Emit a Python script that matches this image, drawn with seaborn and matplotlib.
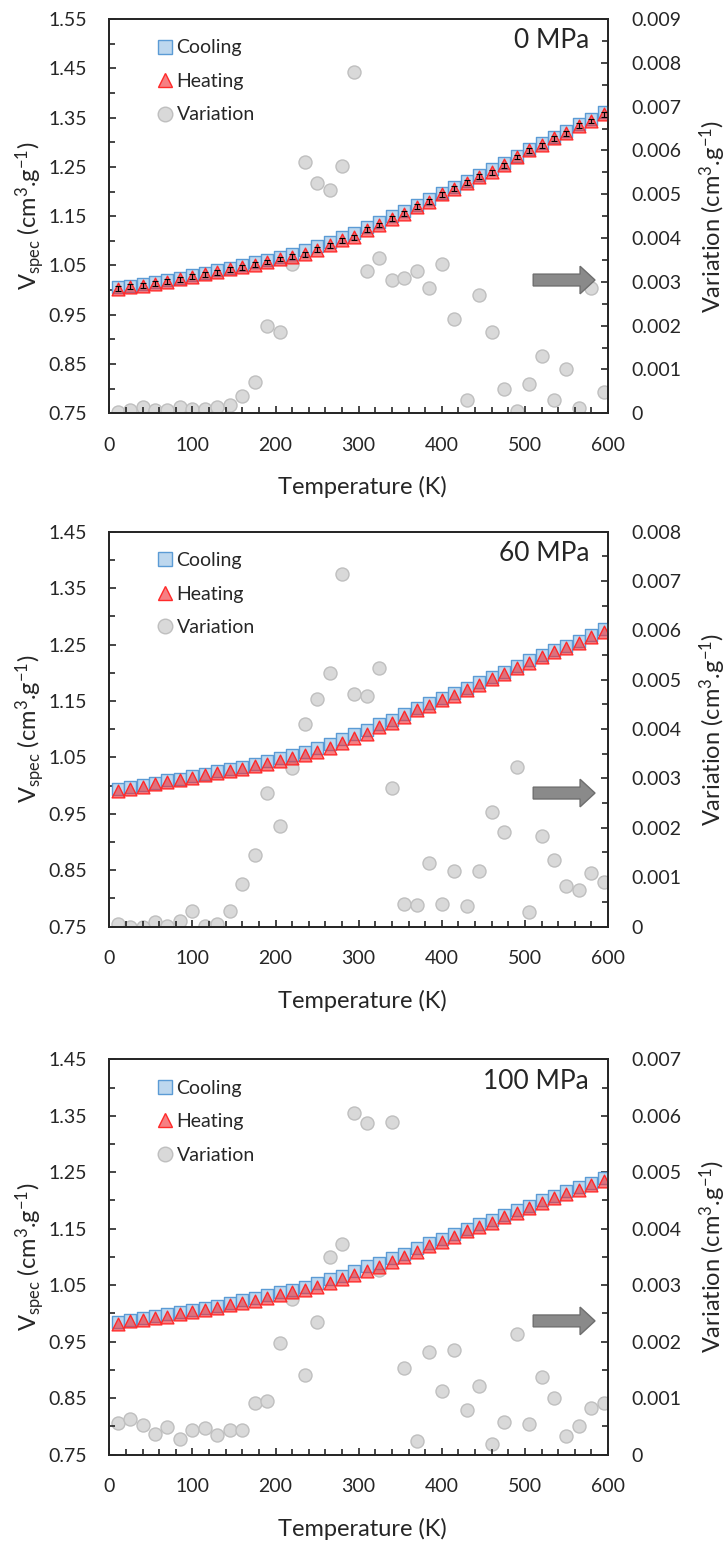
import numpy as np
import matplotlib
matplotlib.use('Agg')
import matplotlib.pyplot as plt
from matplotlib.lines import Line2D
from matplotlib.patches import FancyArrow
from matplotlib.ticker import FuncFormatter
import pandas as pd
import seaborn as sns

# Temperature (K), same for every panel
temperature = [10, 25, 40, 55, 70, 85, 100, 115, 130, 145,
               160, 175, 190, 205, 220, 235, 250, 265, 280, 295,
               310, 325, 340, 355, 370, 385, 400, 415, 430, 445,
               460, 475, 490, 505, 520, 535, 550, 565, 580, 595]

pressures = ['0 MPa', '60 MPa', '100 MPa']

# 0 MPa
cooling0 = [1.006, 1.009, 1.012, 1.016, 1.020, 1.025, 1.030, 1.035, 1.040, 1.045,
            1.050, 1.056, 1.062, 1.068, 1.074, 1.081, 1.089, 1.098, 1.107, 1.116,
            1.128, 1.139, 1.150, 1.161, 1.173, 1.184, 1.197, 1.209, 1.221, 1.233,
            1.245, 1.258, 1.273, 1.287, 1.298, 1.311, 1.322, 1.336, 1.347, 1.361]
heating0 = [1.003, 1.007, 1.009, 1.013, 1.017, 1.022, 1.027, 1.032, 1.036, 1.042,
            1.046, 1.051, 1.057, 1.063, 1.068, 1.073, 1.082, 1.091, 1.101, 1.107,
            1.122, 1.132, 1.145, 1.155, 1.169, 1.179, 1.194, 1.206, 1.218, 1.230,
            1.239, 1.253, 1.270, 1.284, 1.294, 1.308, 1.318, 1.333, 1.343, 1.357]
errors0 = [0.005, 0.005, 0.005, 0.005, 0.005, 0.005, 0.005, 0.005, 0.005, 0.005,
           0.005, 0.005, 0.005, 0.005, 0.005, 0.005, 0.005, 0.005, 0.005, 0.005,
           0.005, 0.005, 0.005, 0.005, 0.005, 0.005, 0.005, 0.005, 0.005, 0.005,
           0.005, 0.005, 0.005, 0.005, 0.005, 0.005, 0.005, 0.005, 0.005, 0.005]
variation0 = [0.00002, 0.00008, 0.00014, 0.00008, 0.00008, 0.00015, 0.0001, 0.0001, 0.00015, 0.0002,
              0.0004, 0.00072, 0.0020, 0.00186, 0.0034, 0.00574, 0.00525, 0.0051, 0.00565, 0.00778,
              0.00325, 0.00354, 0.00304, 0.00308, 0.00325, 0.00287, 0.0034, 0.00215, 0.0003, 0.0027,
              0.00186, 0.00056, 0.00006, 0.00068, 0.00131, 0.0003, 0.00102, 0.00011, 0.00287, 0.00049]

# 60 MPa
cooling60 = [0.993, 0.997, 1.001, 1.005, 1.009, 1.012, 1.016, 1.021, 1.025, 1.029,
             1.033, 1.039, 1.043, 1.049, 1.054, 1.060, 1.066, 1.073, 1.082, 1.091,
             1.099, 1.109, 1.117, 1.127, 1.137, 1.146, 1.156, 1.164, 1.173, 1.183,
             1.193, 1.202, 1.212, 1.222, 1.231, 1.240, 1.248, 1.257, 1.267, 1.277]
heating60 = [0.991, 0.994, 0.998, 1.002, 1.006, 1.009, 1.013, 1.018, 1.022, 1.025,
             1.029, 1.035, 1.038, 1.044, 1.048, 1.054, 1.059, 1.066, 1.075, 1.084,
             1.091, 1.103, 1.110, 1.122, 1.133, 1.141, 1.152, 1.159, 1.169, 1.178,
             1.188, 1.198, 1.208, 1.218, 1.227, 1.236, 1.243, 1.253, 1.264, 1.273]
variation60 = [0.00005, 0.0, 0.0, 0.0001, 0.00001, 0.00012, 0.00031, 0.00001, 0.00005, 0.00031,
               0.00086, 0.00145, 0.00271, 0.00204, 0.00321, 0.0041, 0.00462, 0.00514, 0.00714, 0.00471,
               0.00467, 0.00524, 0.00281, 0.00045, 0.00044, 0.00128, 0.00045, 0.00113, 0.00041, 0.00112,
               0.00233, 0.00191, 0.00324, 0.00029, 0.00183, 0.00134, 0.00083, 0.00074, 0.00108, 0.0009]

# 100 MPa
cooling100 = [0.985, 0.989, 0.992, 0.995, 0.998, 1.002, 1.006, 1.010, 1.013, 1.019,
              1.023, 1.027, 1.032, 1.037, 1.042, 1.047, 1.053, 1.060, 1.067, 1.075,
              1.083, 1.090, 1.098, 1.106, 1.115, 1.124, 1.132, 1.140, 1.150, 1.158,
              1.165, 1.175, 1.183, 1.191, 1.200, 1.208, 1.216, 1.223, 1.231, 1.239]
heating100 = [0.982, 0.986, 0.989, 0.992, 0.994, 0.999, 1.003, 1.006, 1.009, 1.015,
              1.019, 1.022, 1.028, 1.032, 1.037, 1.041, 1.047, 1.053, 1.060, 1.068,
              1.075, 1.082, 1.091, 1.100, 1.109, 1.119, 1.127, 1.135, 1.145, 1.153,
              1.160, 1.170, 1.178, 1.186, 1.196, 1.204, 1.212, 1.219, 1.227, 1.234]
variation100 = [0.00055, 0.00063, 0.00052, 0.00037, 0.00048, 0.00028, 0.00044, 0.00047, 0.00035, 0.00044,
                0.00044, 0.00091, 0.00095, 0.00198, 0.00275, 0.00141, 0.00234, 0.00349, 0.00372, 0.00604,
                0.00587, 0.00326, 0.00589, 0.00154, 0.00024, 0.00181, 0.00112, 0.00185, 0.00079, 0.00121,
                0.00019, 0.00057, 0.00213, 0.00054, 0.00138, 0.001, 0.00032, 0.00051, 0.00082, 0.00092]

sns.set_style('ticks')
plt.rcParams['font.family'] = ['Lato', 'DejaVu Sans']
plt.rcParams['mathtext.fontset'] = 'custom'
plt.rcParams['mathtext.rm'] = 'Lato'
plt.rcParams['mathtext.it'] = 'Lato:italic'
plt.rcParams['mathtext.bf'] = 'Lato:bold'
plt.rcParams['axes.linewidth'] = 1.3

SQ_FACE, SQ_EDGE = '#bdd7ee', '#5b9bd5'
TRI_FACE, TRI_EDGE = (0.95, 0.2, 0.22, 0.62), '#ff2a2a'
CI_FACE, CI_EDGE = '#d9d9d9', '#bfbfbf'

fig = plt.figure(figsize=(7.28, 15.43), dpi=100)
W, H = 728.0, 1543.0


def drawPanel(top, bottom, label, cooling, heating, variation, ymax, varmax, errors=None):
    rect = [109.3 / W, (H - bottom) / H, 498.7 / W, (bottom - top) / H]
    ax = fig.add_axes(rect)
    ax2 = ax.twinx()
    df = pd.DataFrame({'T': temperature, 'cooling': cooling,
                       'heating': heating, 'variation': variation})

    sns.scatterplot(data=df, x='T', y='variation', ax=ax2, marker='o', s=88,
                    color=CI_FACE, edgecolor=CI_EDGE, linewidth=1, legend=False)
    sns.scatterplot(data=df, x='T', y='cooling', ax=ax, marker='s', s=74,
                    color=SQ_FACE, edgecolor=SQ_EDGE, linewidth=1, legend=False)
    sns.scatterplot(data=df, x='T', y='heating', ax=ax, marker='^', s=84,
                    color='red', edgecolor=TRI_EDGE, linewidth=1, legend=False)
    ax.collections[-1].set_facecolor(TRI_FACE)
    if errors is not None:
        ax.errorbar(temperature, heating, yerr=errors, fmt='none', ecolor='black',
                    elinewidth=0.8, capsize=2.5, capthick=0.8, zorder=4)

    # primary axis drawn over the variation axis
    ax.set_zorder(ax2.get_zorder() + 1)
    ax.patch.set_visible(False)

    ax.set_xlim(0, 600)
    ax.set_ylim(0.75, ymax)
    ax2.set_ylim(0, varmax)
    ax.set_xticks(np.arange(0, 601, 100))
    ax.set_xticks(np.arange(0, 601, 20), minor=True)
    ax.set_yticks(np.round(np.arange(0.75, ymax + 0.001, 0.1), 2))
    ax.set_yticks(np.round(np.arange(0.75, ymax + 0.001, 0.05), 3), minor=True)
    ax2.set_yticks(np.round(np.arange(0, varmax + 0.00001, 0.001), 4))
    ax2.set_yticks(np.round(np.arange(0, varmax + 0.00001, 0.0005), 5), minor=True)
    ax.yaxis.set_major_formatter(FuncFormatter(lambda v, p: '%.2f' % v))
    ax2.yaxis.set_major_formatter(FuncFormatter(lambda v, p: '0' if abs(v) < 1e-9 else '%.3f' % v))

    ax.tick_params(axis='x', which='both', direction='in', top=False, labelsize=14, pad=17)
    ax.tick_params(axis='y', which='both', direction='in', right=False, labelsize=14, pad=16)
    ax.tick_params(which='major', length=5, width=1.2)
    ax.tick_params(which='minor', length=4, width=1.2)
    ax2.tick_params(axis='y', which='both', direction='in', labelsize=14, pad=17)
    ax2.tick_params(which='major', length=5, width=1.2)
    ax2.tick_params(which='minor', length=4, width=1.2)

    ax.set_xlabel('Temperature (K)', fontsize=17)
    ax.set_ylabel(r'V$_{\mathrm{spec}}$ (cm$^{\mathrm{3}}$.g$^{\mathrm{-1}}$)', fontsize=17)
    ax2.set_ylabel(r'Variation (cm$^{\mathrm{3}}$.g$^{\mathrm{-1}}$)', fontsize=17, rotation=90)
    ax.xaxis.set_label_coords(0.507, -0.16)
    ax.yaxis.set_label_coords(-0.159, 0.5)
    ax2.yaxis.set_label_coords(1.21, 0.5)
    ax2.yaxis.label.set_va('center')
    ax.yaxis.label.set_va('center')

    ax.text(0.962, 0.945, label, transform=ax.transAxes, ha='right', va='center', fontsize=19)

    ax.add_patch(FancyArrow(0.85, 0.338, 0.124, 0, width=0.03, head_width=0.07,
                            head_length=0.03, length_includes_head=True,
                            transform=ax.transAxes, facecolor='#8a8a8a',
                            edgecolor='#6e6e6e', lw=1, zorder=5))

    handles = [
        Line2D([], [], ls='none', marker='s', markersize=9.5, markerfacecolor=SQ_FACE,
               markeredgecolor=SQ_EDGE),
        Line2D([], [], ls='none', marker='^', markersize=10, markerfacecolor=TRI_FACE,
               markeredgecolor=TRI_EDGE),
        Line2D([], [], ls='none', marker='o', markersize=10.5, markerfacecolor=CI_FACE,
               markeredgecolor=CI_EDGE),
    ]
    ax.legend(handles, ['Cooling', 'Heating', 'Variation'], loc='upper left',
              bbox_to_anchor=(0.082, 0.968), frameon=False, fontsize=14,
              handlelength=0.7, handletextpad=0.25, labelspacing=0.85, borderaxespad=0)
    return ax


drawPanel(19, 413.3, pressures[0], cooling0, heating0, variation0, 1.55, 0.009, errors0)
drawPanel(531.7, 926.5, pressures[1], cooling60, heating60, variation60, 1.45, 0.008)
drawPanel(1059.3, 1454.5, pressures[2], cooling100, heating100, variation100, 1.45, 0.007)

fig.savefig('out.png', dpi=100)
